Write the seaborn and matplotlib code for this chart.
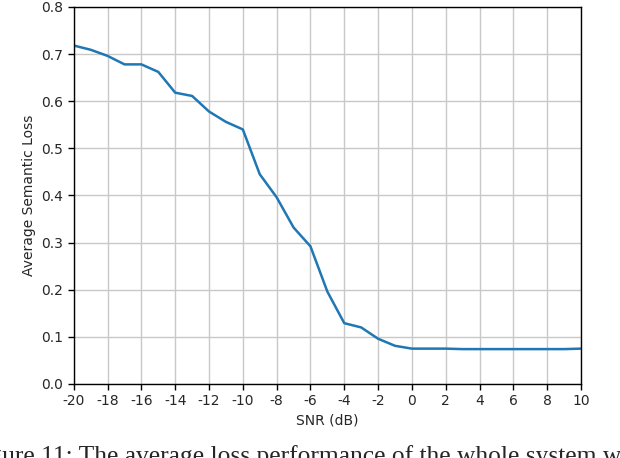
import matplotlib
matplotlib.use("Agg")
import matplotlib.pyplot as plt
import pandas as pd
import seaborn as sns

# SNR sweep and the average semantic loss
snr_db = [-20, -19, -18, -17, -16, -15, -14, -13, -12, -11, -10,
          -9, -8, -7, -6, -5, -4, -3, -2, -1, 0,
          1, 2, 3, 4, 5, 6, 7, 8, 9, 10]
avg_loss = [0.718, 0.709, 0.696, 0.678, 0.678, 0.662, 0.618, 0.611, 0.578, 0.556, 0.540,
            0.445, 0.396, 0.332, 0.292, 0.196, 0.129, 0.120, 0.096, 0.081, 0.075,
            0.075, 0.075, 0.074, 0.074, 0.074, 0.074, 0.074, 0.074, 0.074, 0.075]
x_ticks = list(range(-20, 11, 2))
y_ticks = [0.0, 0.1, 0.2, 0.3, 0.4, 0.5, 0.6, 0.7, 0.8]

df = pd.DataFrame({"snr": snr_db, "loss": avg_loss})

sns.set_style("ticks")
plt.rcParams["font.family"] = ["DejaVu Sans"]
plt.rcParams["axes.unicode_minus"] = False

fig = plt.figure(figsize=(6.2, 4.58), dpi=100)
ax = fig.add_axes([0.119, 0.1616, 0.818, 0.8234])

sns.lineplot(data=df, x="snr", y="loss", ax=ax, color="#1f77b4", linewidth=1.8)

ax.set_xlim(-20, 10)
ax.set_ylim(0, 0.8)
ax.set_xticks(x_ticks)
ax.set_yticks(y_ticks)
ax.set_yticklabels([f"{v:.1f}" for v in y_ticks])
ax.grid(True, color="#c8c8c8", linewidth=1.0)
ax.set_axisbelow(True)
ax.tick_params(labelsize=10, length=4, width=1, color="black")
for s in ax.spines.values():
    s.set_color("black")
    s.set_linewidth(1.0)
ax.set_xlabel("SNR (dB)", fontsize=10)
ax.set_ylabel("Average Semantic Loss", fontsize=10)

# caption of the paper figure, cut off by the crop
fig.text(-0.052, -0.011, "Figure 11: The average loss performance of the whole system when",
         family="Liberation Serif", fontsize=18.4, ha="left", va="baseline")

fig.savefig("out.png", dpi=100)
